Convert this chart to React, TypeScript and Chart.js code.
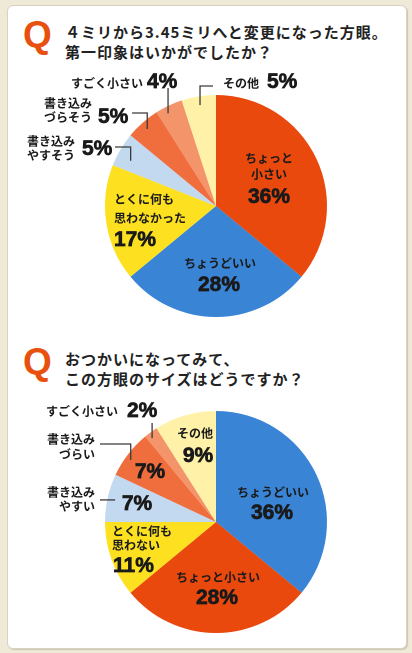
import React, { useEffect, useRef } from "react";
import { Chart, registerables } from "chart.js";

Chart.register(...registerables);

// ---- Data ----
const categories1 = ["ちょっと小さい", "ちょうどいい", "とくに何も思わなかった", "書き込みやすそう", "書き込みづらそう", "すごく小さい", "その他"];
const values1 = [36, 28, 17, 5, 5, 4, 5];
const colors1 = ["#e9490d", "#3a84d5", "#fde121", "#c3d9ef", "#f06e3d", "#f4946a", "#fff2a8"];

const categories2 = ["ちょうどいい", "ちょっと小さい", "とくに何も思わない", "書き込みやすい", "書き込みづらい", "すごく小さい", "その他"];
const values2 = [36, 28, 11, 7, 7, 2, 9];
const colors2 = ["#3a84d5", "#e9490d", "#fde121", "#c3d9ef", "#f06e3d", "#f4946a", "#fff2a8"];

const title1 = ["４ミリから3.45ミリへと変更になった方眼。", "第一印象はいかがでしたか？"];
const title2 = ["おつかいになってみて、", "この方眼のサイズはどうですか？"];

// label text lines per slice (display), percent shown from values
const labelLines1 = [["ちょっと", "小さい"], ["ちょうどいい"], ["とくに何も", "思わなかった"], ["書き込み", "やすそう"], ["書き込み", "づらそう"], ["すごく小さい"], ["その他"]];
const labelLines2 = [["ちょうどいい"], ["ちょっと小さい"], ["とくに何も", "思わない"], ["書き込み", "やすい"], ["書き込み", "づらい"], ["すごく小さい"], ["その他"]];

type LabelSpec = {
  tx: number; ty: number[]; talign: CanvasTextAlign;
  px: number; py: number; palign: CanvasTextAlign;
};
type LeaderSpec = { index: number; pos: number; frac: number; elbowDy: number | null; endDx: number | null };

const labelPos1: LabelSpec[] = [
  { tx: 53, ty: [-48, -32], talign: "center", px: 53, py: -9, palign: "center" },
  { tx: 4, ty: [57], talign: "center", px: 3, py: 79, palign: "center" },
  { tx: -102, ty: [-7, 12], talign: "left", px: -102, py: 34, palign: "left" },
  { tx: -141, ty: [-65, -51], talign: "right", px: -134, py: -57, palign: "left" },
  { tx: -124, ty: [-103, -89], talign: "right", px: -118, py: -89, palign: "left" },
  { tx: -73, ty: [-123], talign: "right", px: -69, py: -124, palign: "left" },
  { tx: 7, ty: [-123], talign: "left", px: 51, py: -124, palign: "left" },
];
const leaders1: LeaderSpec[] = [
  { index: 3, pos: 0.35, frac: 0.87, elbowDy: -59, endDx: -101 },
  { index: 4, pos: 0.48, frac: 0.93, elbowDy: -93, endDx: -84 },
  { index: 5, pos: 0.35, frac: 0.94, elbowDy: -118, endDx: null },
  { index: 6, pos: 0.5, frac: 0.92, elbowDy: -120, endDx: -3 },
];

const labelPos2: LabelSpec[] = [
  { tx: 57, ty: [-30], talign: "center", px: 56, py: -9, palign: "center" },
  { tx: 2, ty: [55], talign: "center", px: 1, py: 76, palign: "center" },
  { tx: -104, ty: [9, 23], talign: "left", px: -103, py: 44, palign: "left" },
  { tx: -121, ty: [-30, -16], talign: "right", px: -79, py: -18, palign: "center" },
  { tx: -121, ty: [-83, -68], talign: "right", px: -66, py: -50, palign: "center" },
  { tx: -98, ty: [-111], talign: "right", px: -89, py: -111, palign: "left" },
  { tx: -21, ty: [-89], talign: "center", px: -18, py: -66, palign: "center" },
];
const leaders2: LeaderSpec[] = [
  { index: 3, pos: 0.49, frac: 0.93, elbowDy: null, endDx: -116 },
  { index: 4, pos: 0.43, frac: 0.95, elbowDy: -78, endDx: -116 },
  { index: 5, pos: 0.32, frac: 0.95, elbowDy: -99, endDx: null },
];

const JP = '"Noto Sans CJK JP", "Noto Sans", sans-serif';
const NUM = '"Liberation Sans", Arial, sans-serif';

function makeLabelPlugin(lines: string[][], values: number[], pos: LabelSpec[], leaders: LeaderSpec[]) {
  return {
    id: "pieLabels",
    afterDraw(chart: any) {
      const ctx: CanvasRenderingContext2D = chart.ctx;
      const meta = chart.getDatasetMeta(0);
      const arcs = meta.data;
      if (!arcs.length) return;
      const cx = arcs[0].x;
      const cy = arcs[0].y;
      ctx.save();
      // leaders
      ctx.strokeStyle = "#3a3a3a";
      ctx.lineWidth = 1.3;
      leaders.forEach((ld) => {
        const a = arcs[ld.index];
        const p = a.getProps(["startAngle", "endAngle", "outerRadius"], true);
        const ang = p.startAngle + (p.endAngle - p.startAngle) * ld.pos;
        const ex = cx + Math.cos(ang) * p.outerRadius * ld.frac;
        const ey = cy + Math.sin(ang) * p.outerRadius * ld.frac;
        ctx.beginPath();
        ctx.moveTo(ex, ey);
        let yy = ey;
        if (ld.elbowDy !== null) {
          yy = cy + ld.elbowDy;
          ctx.lineTo(ex, yy);
        }
        if (ld.endDx !== null) ctx.lineTo(cx + ld.endDx, yy);
        ctx.stroke();
      });
      // text
      ctx.fillStyle = "#1a1a1a";
      ctx.strokeStyle = "#1a1a1a";
      ctx.textBaseline = "middle";
      pos.forEach((s, i) => {
        ctx.font = `bold 12px ${JP}`;
        ctx.textAlign = s.talign;
        lines[i].forEach((t, k) => {
          ctx.fillText(t, cx + s.tx, cy + s.ty[k]);
        });
        ctx.font = `bold 21px ${NUM}`;
        ctx.textAlign = s.palign;
        ctx.lineWidth = 0.7;
        const txt = `${values[i]}%`;
        ctx.fillText(txt, cx + s.px, cy + s.py);
        ctx.strokeText(txt, cx + s.px, cy + s.py);
      });
      ctx.restore();
    },
  };
}

function PieCanvas(props: {
  top: number; height: number; padTop: number; padBottom: number;
  categories: string[]; values: number[]; colors: string[];
  lines: string[][]; pos: LabelSpec[]; leaders: LeaderSpec[];
}) {
  const ref = useRef<HTMLCanvasElement | null>(null);
  useEffect(() => {
    if (!ref.current) return;
    const chart = new Chart(ref.current, {
      type: "pie",
      data: {
        labels: props.categories,
        datasets: [{ data: props.values, backgroundColor: props.colors, borderWidth: 0 }],
      },
      options: {
        animation: false,
        responsive: false,
        devicePixelRatio: 2,
        layout: { padding: { left: 105, right: 85, top: props.padTop, bottom: props.padBottom } },
        plugins: { legend: { display: false }, tooltip: { enabled: false } },
      },
      plugins: [makeLabelPlugin(props.lines, props.values, props.pos, props.leaders)],
    });
    return () => chart.destroy();
  }, []);
  return (
    <canvas
      ref={ref}
      width={412}
      height={props.height}
      style={{ position: "absolute", left: 0, top: props.top, width: 412, height: props.height }}
    />
  );
}

function Header(props: { top: number; lines: string[] }) {
  return (
    <>
      <div
        style={{
          position: "absolute", left: 23, top: props.top - 7, fontFamily: NUM, fontWeight: "bold",
          fontSize: 37, color: "#e8500e", lineHeight: "40px",
        }}
      >
        Q
      </div>
      <div
        style={{
          position: "absolute", left: 65, top: props.top, fontFamily: JP, fontWeight: "bold",
          fontSize: 15, lineHeight: "20px", letterSpacing: "1px", color: "#222", whiteSpace: "nowrap",
        }}
      >
        {props.lines.map((l, i) => (
          <div key={i}>{l}</div>
        ))}
      </div>
    </>
  );
}

export default function App() {
  return (
    <div style={{ position: "absolute", left: 0, top: 0, width: 412, height: 653, background: "#efe9d8", overflow: "hidden" }}>
      <div
        style={{
          position: "absolute", left: 7, top: 5, width: 398, height: 642, background: "#ffffff",
          border: "1px solid #d9d2bf", borderRadius: 6, boxShadow: "1px 1px 1px #cdc5ae",
        }}
      />
      <Header top={22} lines={title1} />
      <PieCanvas top={60} height={275} padTop={35} padBottom={18}
        categories={categories1} values={values1} colors={colors1}
        lines={labelLines1} pos={labelPos1} leaders={leaders1} />
      <Header top={349} lines={title2} />
      <PieCanvas top={390} height={260} padTop={21} padBottom={17}
        categories={categories2} values={values2} colors={colors2}
        lines={labelLines2} pos={labelPos2} leaders={leaders2} />
    </div>
  );
}
